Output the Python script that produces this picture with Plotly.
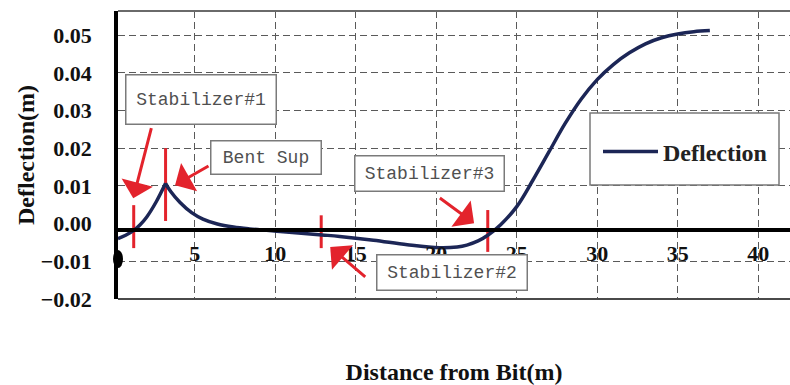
import plotly.graph_objects as go

# Drill-string deflection along the bottom-hole assembly
distance = [0.22, 0.7, 1.2, 1.6, 2.0, 2.6, 3.18, 3.5, 4.08, 4.8, 5.5, 6.4, 7.4, 8.4,
            10.3, 12.9, 14.0, 16.1, 18.2, 20.2, 21.3, 21.9, 22.6, 23.2, 24.0,
            25.0, 26.0, 27.0, 28.0, 29.0, 30.0, 31.0, 32.0, 33.0, 34.0, 35.0, 36.0, 37.0]
deflection = [-0.0040, -0.0031, -0.0018, -0.0003, 0.0017, 0.0058, 0.0107, 0.0085, 0.0056,
              0.0029, 0.0012, -0.0001, -0.0009, -0.0014, -0.0021, -0.0030, -0.0034,
              -0.0044, -0.0056, -0.0064, -0.0062, -0.0057, -0.0046, -0.0031, -0.0003,
              0.0045, 0.0115, 0.0190, 0.0265, 0.0330, 0.0382, 0.0422, 0.0453, 0.0477,
              0.0493, 0.0503, 0.0509, 0.0512]
bend_index = 6  # the bent sub sits at the cusp of the curve

# Red markers at the stabilizers and the bent sub
marker_x = [1.2, 3.18, 12.85, 23.2]
marker_top = [0.0049, 0.0200, 0.0022, 0.0036]
marker_bottom = [-0.0065, 0.0007, -0.0065, -0.0075]

# Callout labels: text, box centre (x, y), box size in px
callout_text = ["Stabilizer#1", "Bent Sup", "Stabilizer#3", "Stabilizer#2"]
callout_x = [5.41, 9.39, 19.61, 20.95]
callout_y = [0.0328, 0.0176, 0.0134, -0.0129]
callout_w = [151, 111, 150, 151]
callout_h = [50, 34, 36, 36]

# Callout arrows: tail (x, y) -> head (x, y)
arrow_tail_x = [2.32, 5.94, 20.13, 15.68]
arrow_tail_y = [0.0257, 0.0155, 0.0071, -0.0145]
arrow_head_x = [1.17, 3.77, 22.35, 13.41]
arrow_head_y = [0.0067, 0.0102, 0.0001, -0.0062]

x_ticks = [5, 10, 15, 20, 25, 30, 35, 40]
y_ticks = [-0.02, -0.01, 0.00, 0.01, 0.02, 0.03, 0.04, 0.05]
y_grid = [-0.01, 0.01, 0.02, 0.03, 0.04, 0.05]
baseline = -0.0018

X_RANGE = [0.224, 41.98]
Y_RANGE = [-0.0200, 0.0564]

W, H = 790, 385
ML, MR, MT, MB = 118, 0, 11, 86
PW, PH = W - ML - MR, H - MT - MB

def px_x(p):
    return (p - ML) / PW

def px_y(p):
    return (H - MB - p) / PH

def y_to_paper(v):
    return (v - Y_RANGE[0]) / (Y_RANGE[1] - Y_RANGE[0])

NAVY = "#1c2656"
RED = "#e3232c"
GRID = "#5a5a5a"
SERIF = "Liberation Serif"
MONO = "Liberation Mono"

fig = go.Figure()

stab_x, stab_y = [], []
for xv, top, bot in zip(marker_x, marker_top, marker_bottom):
    stab_x += [xv, xv, None]
    stab_y += [top, bot, None]
fig.add_trace(go.Scatter(x=stab_x, y=stab_y, mode="lines",
                         line=dict(color=RED, width=3), showlegend=False,
                         hoverinfo="skip"))

fig.add_trace(go.Scatter(x=distance[:bend_index + 1], y=deflection[:bend_index + 1],
                         mode="lines", line=dict(color=NAVY, width=3.5, shape="spline"),
                         name="Deflection", legendgroup="d", showlegend=False))
fig.add_trace(go.Scatter(x=distance[bend_index:], y=deflection[bend_index:],
                         mode="lines", line=dict(color=NAVY, width=3.5, shape="spline"),
                         name="Deflection", legendgroup="d", showlegend=True))

annotations = []
for t, cx, cy, w, h in zip(callout_text, callout_x, callout_y, callout_w, callout_h):
    annotations.append(dict(x=cx, y=cy, xref="x", yref="y", text=t, showarrow=False,
                            xanchor="center", yanchor="middle", width=w - 2, height=h - 2,
                            borderpad=0, bgcolor="white", bordercolor="#7a7a7a",
                            borderwidth=1.5, font=dict(family=MONO, size=18, color="#505050")))
for tx, ty, hx, hy in zip(arrow_tail_x, arrow_tail_y, arrow_head_x, arrow_head_y):
    annotations.append(dict(x=hx, y=hy, ax=tx, ay=ty, xref="x", yref="y",
                            axref="x", ayref="y", text="", showarrow=True,
                            arrowhead=1, arrowsize=1.8, arrowwidth=3, arrowcolor=RED))

shapes = [
    # top and bottom frame
    dict(type="line", xref="paper", yref="paper", x0=0, x1=1, y0=1, y1=1,
         line=dict(color="#6a6a6a", width=2)),
    dict(type="line", xref="paper", yref="paper", x0=0, x1=1, y0=0, y1=0,
         line=dict(color="#4a4a4a", width=2)),
    # legend frame
    dict(type="rect", xref="paper", yref="paper", x0=px_x(590), x1=px_x(779),
         y0=px_y(185), y1=px_y(113), fillcolor="white",
         line=dict(color="#7a7a7a", width=1.5), layer="above"),
    # bit marker at the origin
    dict(type="circle", xref="paper", yref="paper", xsizemode="pixel", ysizemode="pixel",
         xanchor=0, yanchor=y_to_paper(-0.0094), x0=-5, x1=5, y0=-9, y1=9,
         fillcolor="black", line=dict(color="black", width=0), layer="above"),
]

fig.update_layout(
    width=W, height=H,
    margin=dict(l=ML, r=MR, t=MT, b=MB),
    paper_bgcolor="white", plot_bgcolor="white",
    showlegend=True,
    legend=dict(x=px_x(598), y=px_y(152), xanchor="left", yanchor="middle",
                bgcolor="rgba(0,0,0,0)", borderwidth=0, itemwidth=55,
                font=dict(family=SERIF, size=24, color="#222222", weight="bold")),
    xaxis=dict(range=X_RANGE, anchor="free", position=y_to_paper(baseline),
               tickmode="array", tickvals=x_ticks, ticks="", ticklabelstandoff=2,
               showline=True, linecolor="black", linewidth=3.5,
               showgrid=True, gridcolor=GRID, gridwidth=1.3, griddash="7px,4px",
               zeroline=False, automargin=False,
               tickfont=dict(family=SERIF, size=22, color="#111111", weight="bold"),
               title=dict(text="Distance from Bit(m)", standoff=108,
                          font=dict(family=SERIF, size=24, color="#111111", weight="bold"))),
    yaxis=dict(range=Y_RANGE, tickmode="array", tickvals=y_ticks, tickformat=".2f",
               ticks="", ticklabelstandoff=18, showgrid=False, zeroline=False,
               showline=True, linecolor="black", linewidth=3.5, automargin=False,
               minor=dict(tickmode="array", tickvals=y_grid, showgrid=True,
                          gridcolor=GRID, gridwidth=1.3, griddash="7px,4px"),
               tickfont=dict(family=SERIF, size=22, color="#111111", weight="bold"),
               title=dict(text="Deflection(m)", standoff=0,
                          font=dict(family=SERIF, size=24, color="#111111", weight="bold"))),
    shapes=shapes,
    annotations=annotations,
)

fig.write_html("out.html")
